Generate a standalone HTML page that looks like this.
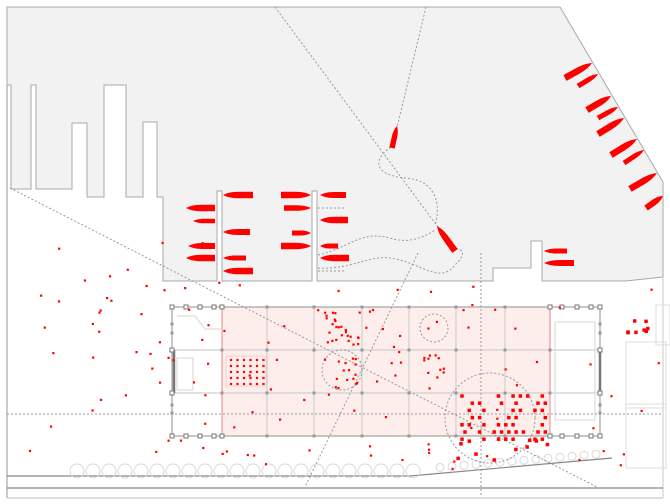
<!DOCTYPE html>
<html><head><meta charset="utf-8"><style>
html,body{margin:0;padding:0;background:#fff;width:670px;height:504px;overflow:hidden}
svg{display:block}
</style></head><body>
<svg id="s" width="670" height="504" viewBox="0 0 670 504" xmlns="http://www.w3.org/2000/svg">
<rect width="670" height="504" fill="#fff"/>
<path d="M7,7 L560,7 L663,182 L663,277 L625,281 L542,281 L542,241 L531,241 L531,268 L493,268 L493,281 L322,281 L317,281 L317,191 L312,191 L312,281 L222,281 L222,191 L217,191 L217,281 L163,281 L163,197 L157,197 L157,122 L143,122 L143,197 L126,197 L126,85 L104,85 L104,197 L87,197 L87,123 L72,123 L72,189 L36,189 L36,85 L31,85 L31,189 L11,189 L11,85 L7,85 Z" fill="#f2f2f2" stroke="#a8a8a8" stroke-width="1"/>
<line x1="7" y1="85" x2="7" y2="498" stroke="#a8a8a8" stroke-width="1.2"/>
<line x1="663" y1="277" x2="663" y2="498" stroke="#c8c8c8" stroke-width="1"/>
<path d="M7,476 L410,476 L612,458" fill="none" stroke="#888" stroke-width="1.2"/>
<line x1="7" y1="488" x2="663" y2="488" stroke="#888" stroke-width="1.2"/>
<line x1="7" y1="498" x2="663" y2="498" stroke="#bbb" stroke-width="1"/>
<g id="circ" fill="none" stroke="#d8d8d8" stroke-width="1"></g>
<rect x="626" y="342" width="40" height="66" fill="none" stroke="#ddd"/>
<rect x="626" y="404" width="40" height="64" fill="none" stroke="#ddd"/>
<rect x="656" y="305" width="14" height="40" fill="none" stroke="#ddd"/>
<rect x="222" y="307" width="328" height="129" fill="#fdeeec"/>
<line x1="222" y1="307" x2="222" y2="436" stroke="#f08080" stroke-width="1"/>
<line x1="550" y1="307" x2="550" y2="436" stroke="#f08080" stroke-width="1"/>
<g stroke="#cfcfcf" stroke-width="1.2" fill="none">
<line x1="267" y1="307" x2="267" y2="436"/><line x1="314" y1="307" x2="314" y2="436"/>
<line x1="362" y1="307" x2="362" y2="436"/><line x1="409" y1="307" x2="409" y2="436"/>
<line x1="456" y1="307" x2="456" y2="436"/><line x1="505" y1="307" x2="505" y2="436"/>
<line x1="172" y1="350" x2="600" y2="350"/><line x1="172" y1="393" x2="600" y2="393"/>
<rect x="555" y="322" width="40" height="98" stroke="#ddd"/>
<rect x="177" y="358" width="16" height="32" stroke="#ddd"/>
<path d="M177,316 L195,316 L205,329 L222,329" stroke="#ddd"/>
</g>
<g stroke="#777" stroke-width="1.3" fill="none">
<rect x="172" y="307" width="428" height="129" stroke="#999" stroke-width="1.1"/>
<line x1="174" y1="350" x2="174" y2="393" stroke-width="2.5"/>
<line x1="600" y1="350" x2="600" y2="393" stroke-width="2.5"/>
</g>
<g id="nodes" fill="#fff" stroke="#777" stroke-width="1"></g>
<g fill="none" stroke="#999" stroke-width="1" stroke-dasharray="2,2">
<line x1="426" y1="7" x2="394" y2="140"/>
<path d="M275,7 L455,250"/>
<path d="M394,145 C370,160 375,175 405,178 C440,180 440,210 435,225"/>
<path d="M318,255 C350,248 360,230 390,238 C405,243 420,240 435,230"/>
<path d="M318,268 C350,270 370,255 390,258 C420,262 440,285 455,265 C465,255 465,250 455,248"/>
<line x1="10" y1="188" x2="597" y2="487"/>
<line x1="418" y1="253" x2="305" y2="487"/>
<line x1="481" y1="253" x2="481" y2="497"/>
<line x1="7" y1="414" x2="663" y2="414"/>
<circle cx="434" cy="328" r="14"/>
<circle cx="342" cy="370" r="20"/>
<circle cx="490" cy="418" r="45"/>
<line x1="318" y1="208" x2="345" y2="208"/>
<line x1="318" y1="271" x2="345" y2="271"/>
</g>
<g id="boats" fill="#f00"></g>
<g id="dots" fill="#f00"></g>
</svg>
<script>
var NS="http://www.w3.org/2000/svg";
function el(p,t,a){var e=document.createElementNS(NS,t);for(var k in a)e.setAttribute(k,a[k]);document.getElementById(p).appendChild(e);return e;}
for(var x=77;x<420;x+=16)el("circ","circle",{cx:x,cy:471,r:7});
for(var i=0;i<14;i++){var cx=440+i*12;el("circ","circle",{cx:cx,cy:470-(cx-410)*0.085,r:4});}
function sq(x,y,s){el("nodes","rect",{x:x-s/2,y:y-s/2,width:s,height:s});}
[172,186,200,214,222,550,562,577,591,600].forEach(function(x){sq(x,307,4);sq(x,436,4);});
[350,393].forEach(function(y){sq(172,y,4);sq(600,y,4);});
function gd(x,y){el("nodes","rect",{x:x-1.5,y:y-1.5,width:3,height:3,fill:"#999",stroke:"none"});}
[267,314,362,409,456,505].forEach(function(x){[307,350,393,436].forEach(function(y){gd(x,y);});});
[222,550].forEach(function(x){[350,393].forEach(function(y){gd(x,y);});});
[324,333,405,413].forEach(function(y){[172,600].forEach(function(x){gd(x,y);});});
function P(x,y){return x.toFixed(1)+","+y.toFixed(1);}
function boat(x1,y1,x2,y2,w){var dx=x2-x1,dy=y2-y1,L=Math.sqrt(dx*dx+dy*dy),ux=dx/L,uy=dy/L,nx=-uy*w/2,ny=ux*w/2;
var mx=x1+dx*0.45,my=y1+dy*0.45,rest=L*0.55;
var sx=x1-ux*1.2,sy=y1-uy*1.2;
var d="M"+P(x1+nx*0.9,y1+ny*0.9)+" Q"+P(sx+nx,sy+ny)+" "+P(x1+nx+ux*1.5,y1+ny+uy*1.5)+" L"+P(mx+nx,my+ny)+
" C"+P(mx+nx+ux*rest*0.55,my+ny+uy*rest*0.55)+" "+P(x2+nx*0.45-ux*rest*0.2,y2+ny*0.45-uy*rest*0.2)+" "+P(x2,y2)+
" C"+P(x2-nx*0.45-ux*rest*0.2,y2-ny*0.45-uy*rest*0.2)+" "+P(mx-nx+ux*rest*0.55,my-ny+uy*rest*0.55)+" "+P(mx-nx,my-ny)+
" L"+P(x1-nx+ux*1.5,y1-ny+uy*1.5)+" Q"+P(sx-nx,sy-ny)+" "+P(x1-nx*0.9,y1-ny*0.9)+"Z";
el("boats","path",{d:d});}
boat(215,208,186,208,6.5);boat(215,221,193,221,4.5);boat(215,246,188,246,6);boat(215,258,186,258,6.5);
boat(253,195,223,195,6.5);boat(250,232,223,232,6);boat(246,258,223,258,5);boat(253,271,223,271,6.5);
boat(281,195,311,195,6.5);boat(284,208,311,208,5.5);boat(292,233,311,233,5);boat(281,246,311,246,6.5);
boat(346,195,320,195,6);boat(348,220,320,220,6.5);boat(338,246,320,246,5);boat(349,258,320,258,6.5);
boat(567,251,544,251,5);boat(574,263,544,263,6);
boat(565,78,592,63,6.5);boat(578,86,598,74,5);boat(587,110,611,96,6.5);boat(598,118,618,107,5);boat(598,134,624,118,6.5);
boat(611,155,637,139,6.5);boat(624,163,644,150,5);boat(630,189,657,173,6.5);boat(646,208,663,196,6);
boat(392,148,397,126,5.5);boat(455,251,437,226,6.5);
var seed=7;function r(){seed=(seed*16807)%2147483647;return seed/2147483647;}
function dot(x,y,s){el("dots","rect",{x:x-s/2,y:y-s/2,width:s,height:s});}
function scatter(n,x0,x1,y0,y1,s){for(var i=0;i<n;i++)dot(x0+r()*(x1-x0),y0+r()*(y1-y0),s);}
scatter(45,30,220,230,470,2.2);
scatter(50,222,456,285,470,2.2);
scatter(25,456,660,285,470,2.2);
scatter(25,318,360,310,345,2.2);
scatter(14,325,360,355,390,2.2);
scatter(10,420,445,355,380,2.2);
for(var gx=0;gx<6;gx++)for(var gy=0;gy<5;gy++)dot(231+gx*6.5,360+gy*6,2.2);
el("dots","rect",{x:226,y:356,width:40,height:30,fill:"none",stroke:"#f5b0b0","stroke-width":0.5});
for(var gx=0;gx<12;gx++)for(var gy=0;gy<7;gy++){if(r()<0.6)dot(462+gx*7.3+(gy%2)*3,396+gy*7.2,3.5);}
scatter(10,458,548,440,462,3.5);
scatter(8,620,652,315,335,3.5);
</script>
</body></html>
